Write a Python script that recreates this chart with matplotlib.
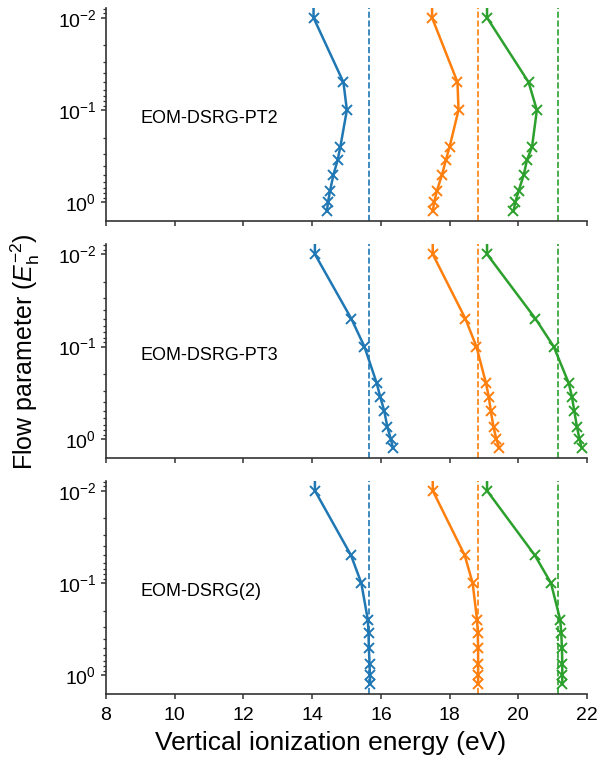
import matplotlib
matplotlib.use("Agg")
import matplotlib.pyplot as plt
from matplotlib.ticker import LogLocator, NullFormatter

plt.rcParams["font.family"] = ["Liberation Sans", "DejaVu Sans"]
plt.rcParams["mathtext.fontset"] = "custom"
plt.rcParams["mathtext.rm"] = "Liberation Sans"
plt.rcParams["mathtext.it"] = "Liberation Sans:italic"

# flow parameter s (Eh^-2); s = 0 is the unrelaxed limit, drawn off the top of the log axis
flow = [0.0, 0.01, 0.05, 0.1, 0.25, 0.35, 0.5, 0.75, 1.0, 1.25]

methods = ["EOM-DSRG-PT2", "EOM-DSRG-PT3", "EOM-DSRG(2)"]

# vertical ionization energies (eV) for the three lowest cationic states
pt2_state1 = [14.04, 14.04, 14.91, 15.01, 14.82, 14.74, 14.62, 14.52, 14.46, 14.43]
pt2_state2 = [17.49, 17.49, 18.23, 18.26, 18.00, 17.89, 17.78, 17.63, 17.55, 17.51]
pt2_state3 = [19.09, 19.09, 20.30, 20.54, 20.40, 20.25, 20.16, 20.01, 19.91, 19.86]

pt3_state1 = [14.08, 14.08, 15.14, 15.52, 15.88, 15.98, 16.10, 16.19, 16.29, 16.35]
pt3_state2 = [17.51, 17.51, 18.46, 18.78, 19.06, 19.14, 19.20, 19.28, 19.36, 19.44]
pt3_state3 = [19.09, 19.09, 20.50, 21.03, 21.47, 21.56, 21.63, 21.71, 21.78, 21.84]

ldsrg2_state1 = [14.08, 14.08, 15.13, 15.43, 15.62, 15.64, 15.65, 15.67, 15.68, 15.69]
ldsrg2_state2 = [17.51, 17.51, 18.44, 18.67, 18.80, 18.82, 18.83, 18.83, 18.83, 18.83]
ldsrg2_state3 = [19.09, 19.09, 20.48, 20.95, 21.22, 21.25, 21.27, 21.28, 21.28, 21.28]

# reference values shown as dashed lines
reference = [15.64, 18.84, 21.16]

colors = ["#1f77b4", "#ff7f0e", "#2ca02c"]

series = [
    [pt2_state1, pt2_state2, pt2_state3],
    [pt3_state1, pt3_state2, pt3_state3],
    [ldsrg2_state1, ldsrg2_state2, ldsrg2_state3],
]

fig, axes = plt.subplots(3, 1, figsize=(5.99, 7.61), dpi=100, sharex=True)
fig.subplots_adjust(left=0.177, right=0.98, top=0.9895, bottom=0.088, hspace=0.11)

for ax, name, states in zip(axes, methods, series):
    for energies, ref, color in zip(states, reference, colors):
        ax.plot(energies, flow, color=color, linewidth=1.8, marker="x",
                markersize=7.5, markeredgewidth=1.4)
        ax.axvline(ref, color=color, linestyle="--", linewidth=1.2)
    ax.set_yscale("log")
    ax.set_ylim(1.592, 0.00785)
    ax.set_xlim(8, 22)
    ax.set_xticks(range(8, 23, 2))
    ax.yaxis.set_major_locator(LogLocator(base=10))
    ax.yaxis.set_minor_locator(LogLocator(base=10, subs=range(2, 10)))
    ax.yaxis.set_minor_formatter(NullFormatter())
    ax.text(9.0, 0.125, name, fontsize=13, va="center", ha="left")
    for side in ("top", "right"):
        ax.spines[side].set_visible(False)
    for side in ("left", "bottom"):
        ax.spines[side].set_color("#333333")
        ax.spines[side].set_linewidth(1.2)
    ax.tick_params(axis="both", which="major", labelsize=14, color="#333333", width=1.1)
    ax.tick_params(axis="x", which="major", pad=6)
    ax.tick_params(axis="y", which="minor", color="#333333", width=0.9)

axes[2].set_xlabel("Vertical ionization energy (eV)", fontsize=19, labelpad=2)
axes[2].xaxis.set_label_coords(0.466, -0.175)
fig.text(0.042, 0.5375, r"Flow parameter ($E_\mathrm{h}^{-2}$)", rotation=90,
         fontsize=18, va="center", ha="center")

fig.savefig("out.png", dpi=100)
